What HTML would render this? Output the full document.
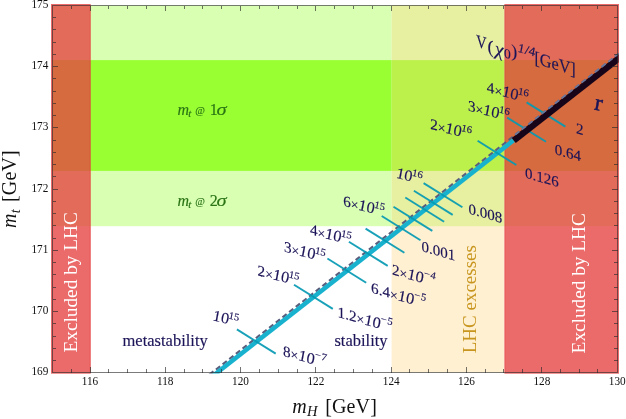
<!DOCTYPE html><html><head><meta charset="utf-8"><style>html,body{margin:0;padding:0;background:#fff}svg{display:block;will-change:transform}text{font-family:"Liberation Serif",serif}.nv text,text.nv{stroke:#1b1458;stroke-width:.15px}.gr{stroke:#2a7414;stroke-width:.15px}</style></head><body>
<svg width="626" height="419" viewBox="0 0 626 419">
<rect width="626" height="419" fill="#fff"/>
<rect x="52.5" y="5.4" width="565.0" height="220.80" fill="#d9ffb3"/>
<rect x="52.5" y="60.13" width="565.0" height="110.77" fill="#99ff33"/>
<rect x="391.50" y="5.0" width="113.00" height="367.5" fill="rgba(255,211,123,0.34)"/>
<rect x="51" y="4" width="39.70" height="369.7" fill="rgba(230,65,65,0.78)"/>
<rect x="504.4" y="4" width="114.60" height="369.7" fill="rgba(230,65,65,0.78)"/>
<path d="M504.3 5V372.5M391.4 5V372.5" stroke="#fff" stroke-opacity="0.3" stroke-width="0.7" fill="none"/>
<path d="M90.1 5V372.5M505 5V372.5" stroke="rgba(225,60,60,0.35)" stroke-width="1.1" fill="none"/>
<clipPath id="cp"><rect x="52.5" y="5.0" width="566.0" height="368.5"/></clipPath>
<linearGradient id="dg" gradientUnits="userSpaceOnUse" x1="0" y1="0" x2="626" y2="0"><stop offset="0.8195" stop-color="#6c769c" stop-opacity="0"/><stop offset="0.8205" stop-color="#6c769c"/></linearGradient>
<g clip-path="url(#cp)">
<line x1="202.67" y1="379.95" x2="625.74" y2="48.42" stroke="#5b5f7e" stroke-width="2.2" stroke-dasharray="5.3 3.15"/>
<line x1="206.99" y1="380.57" x2="513.59" y2="140.31" stroke="#18b2cf" stroke-width="4.5"/>
<line x1="236.9" y1="329.4" x2="275.7" y2="353.6" stroke="#069ab3" stroke-opacity="0.93" stroke-width="1.9"/>
<line x1="294.0" y1="284.7" x2="332.8" y2="308.9" stroke="#069ab3" stroke-opacity="0.93" stroke-width="1.9"/>
<line x1="327.4" y1="258.5" x2="366.2" y2="282.7" stroke="#069ab3" stroke-opacity="0.93" stroke-width="1.9"/>
<line x1="348.9" y1="241.7" x2="387.7" y2="265.9" stroke="#069ab3" stroke-opacity="0.93" stroke-width="1.9"/>
<line x1="365.6" y1="228.6" x2="404.4" y2="252.8" stroke="#069ab3" stroke-opacity="0.93" stroke-width="1.9"/>
<line x1="381.7" y1="216.0" x2="420.5" y2="240.2" stroke="#069ab3" stroke-opacity="0.93" stroke-width="1.9"/>
<line x1="393.5" y1="206.7" x2="432.3" y2="230.9" stroke="#069ab3" stroke-opacity="0.93" stroke-width="1.9"/>
<line x1="405.3" y1="197.5" x2="444.1" y2="221.7" stroke="#069ab3" stroke-opacity="0.93" stroke-width="1.9"/>
<line x1="413.9" y1="190.7" x2="452.7" y2="214.9" stroke="#069ab3" stroke-opacity="0.93" stroke-width="1.9"/>
<line x1="423.6" y1="183.1" x2="462.4" y2="207.3" stroke="#069ab3" stroke-opacity="0.93" stroke-width="1.9"/>
<line x1="477.6" y1="140.8" x2="516.4" y2="165.0" stroke="#069ab3" stroke-opacity="0.93" stroke-width="1.9"/>
<line x1="507.2" y1="117.6" x2="546.0" y2="141.8" stroke="#069ab3" stroke-opacity="0.93" stroke-width="1.9"/>
<line x1="526.6" y1="102.4" x2="565.4" y2="126.6" stroke="#069ab3" stroke-opacity="0.93" stroke-width="1.9"/>
<line x1="513.74" y1="140.51" x2="627.84" y2="51.10" stroke="#170418" stroke-width="6.5"/>
<line x1="202.52" y1="379.75" x2="625.59" y2="48.22" stroke="url(#dg)" stroke-width="1.7" stroke-dasharray="5.3 3.15"/>
</g>
<path d="M71.50 372.5v-3.7M71.50 5.5v3.7M90.50 372.5v-5.7M90.50 5.5v5.7M108.50 372.5v-3.7M108.50 5.5v3.7M127.50 372.5v-3.7M127.50 5.5v3.7M146.50 372.5v-3.7M146.50 5.5v3.7M165.50 372.5v-5.7M165.50 5.5v5.7M184.50 372.5v-3.7M184.50 5.5v3.7M202.50 372.5v-3.7M202.50 5.5v3.7M221.50 372.5v-3.7M221.50 5.5v3.7M240.50 372.5v-5.7M240.50 5.5v5.7M259.50 372.5v-3.7M259.50 5.5v3.7M278.50 372.5v-3.7M278.50 5.5v3.7M297.50 372.5v-3.7M297.50 5.5v3.7M315.50 372.5v-5.7M315.50 5.5v5.7M334.50 372.5v-3.7M334.50 5.5v3.7M353.50 372.5v-3.7M353.50 5.5v3.7M372.50 372.5v-3.7M372.50 5.5v3.7M391.50 372.5v-5.7M391.50 5.5v5.7M409.50 372.5v-3.7M409.50 5.5v3.7M428.50 372.5v-3.7M428.50 5.5v3.7M447.50 372.5v-3.7M447.50 5.5v3.7M466.50 372.5v-5.7M466.50 5.5v5.7M485.50 372.5v-3.7M485.50 5.5v3.7M503.50 372.5v-3.7M503.50 5.5v3.7M522.50 372.5v-3.7M522.50 5.5v3.7M541.50 372.5v-5.7M541.50 5.5v5.7M560.50 372.5v-3.7M560.50 5.5v3.7M579.50 372.5v-3.7M579.50 5.5v3.7M597.50 372.5v-3.7M597.50 5.5v3.7M52.5 360.50h3.7M617.5 360.50h-3.7M52.5 348.50h3.7M617.5 348.50h-3.7M52.5 336.50h3.7M617.5 336.50h-3.7M52.5 323.50h3.7M617.5 323.50h-3.7M52.5 311.50h5.7M617.5 311.50h-5.7M52.5 299.50h3.7M617.5 299.50h-3.7M52.5 287.50h3.7M617.5 287.50h-3.7M52.5 274.50h3.7M617.5 274.50h-3.7M52.5 262.50h3.7M617.5 262.50h-3.7M52.5 250.50h5.7M617.5 250.50h-5.7M52.5 238.50h3.7M617.5 238.50h-3.7M52.5 225.50h3.7M617.5 225.50h-3.7M52.5 213.50h3.7M617.5 213.50h-3.7M52.5 201.50h3.7M617.5 201.50h-3.7M52.5 189.50h5.7M617.5 189.50h-5.7M52.5 176.50h3.7M617.5 176.50h-3.7M52.5 164.50h3.7M617.5 164.50h-3.7M52.5 152.50h3.7M617.5 152.50h-3.7M52.5 140.50h3.7M617.5 140.50h-3.7M52.5 127.50h5.7M617.5 127.50h-5.7M52.5 115.50h3.7M617.5 115.50h-3.7M52.5 103.50h3.7M617.5 103.50h-3.7M52.5 91.50h3.7M617.5 91.50h-3.7M52.5 78.50h3.7M617.5 78.50h-3.7M52.5 66.50h5.7M617.5 66.50h-5.7M52.5 54.50h3.7M617.5 54.50h-3.7M52.5 42.50h3.7M617.5 42.50h-3.7M52.5 29.50h3.7M617.5 29.50h-3.7M52.5 17.50h3.7M617.5 17.50h-3.7" stroke="#2a2a2a" stroke-width="1" fill="none" shape-rendering="crispEdges" stroke-opacity="0.66"/>
<rect x="52.5" y="5.5" width="565" height="367" fill="none" stroke="#2a2a2a" stroke-opacity="0.62" stroke-width="1" shape-rendering="crispEdges"/>
<text transform="translate(89.9,384.6) scale(0.94,1)" font-size="12" text-anchor="middle" fill="#111">116</text>
<text transform="translate(165.2,384.6) scale(0.94,1)" font-size="12" text-anchor="middle" fill="#111">118</text>
<text transform="translate(240.5,384.6) scale(0.94,1)" font-size="12" text-anchor="middle" fill="#111">120</text>
<text transform="translate(315.9,384.6) scale(0.94,1)" font-size="12" text-anchor="middle" fill="#111">122</text>
<text transform="translate(391.2,384.6) scale(0.94,1)" font-size="12" text-anchor="middle" fill="#111">124</text>
<text transform="translate(466.5,384.6) scale(0.94,1)" font-size="12" text-anchor="middle" fill="#111">126</text>
<text transform="translate(541.9,384.6) scale(0.94,1)" font-size="12" text-anchor="middle" fill="#111">128</text>
<text transform="translate(617.2,384.6) scale(0.94,1)" font-size="12" text-anchor="middle" fill="#111">130</text>
<text transform="translate(48.3,375.4) scale(0.94,1)" font-size="12" text-anchor="end" fill="#111">169</text>
<text transform="translate(48.3,314.1) scale(0.94,1)" font-size="12" text-anchor="end" fill="#111">170</text>
<text transform="translate(48.3,252.9) scale(0.94,1)" font-size="12" text-anchor="end" fill="#111">171</text>
<text transform="translate(48.3,191.7) scale(0.94,1)" font-size="12" text-anchor="end" fill="#111">172</text>
<text transform="translate(48.3,130.4) scale(0.94,1)" font-size="12" text-anchor="end" fill="#111">173</text>
<text transform="translate(48.3,69.2) scale(0.94,1)" font-size="12" text-anchor="end" fill="#111">174</text>
<text transform="translate(48.3,7.9) scale(0.94,1)" font-size="12" text-anchor="end" fill="#111">175</text>
<text y="412.6" font-size="20" fill="#111"><tspan x="292.3" font-style="italic">m</tspan><tspan font-style="italic" font-size="14.5" dy="3.5" dx="0.3">H</tspan><tspan x="325.2" dy="-3.5" letter-spacing="0.15">[GeV]</tspan></text>
<text transform="translate(16.3,227.9) rotate(-90)" font-size="20" fill="#111"><tspan x="0" font-style="italic">m</tspan><tspan font-style="italic" font-size="14" dy="3.5" dx="0.3">t</tspan><tspan x="25.9" dy="-3.5" letter-spacing="0.15">[GeV]</tspan></text>
<text y="114.6" font-size="16" fill="#2a7414" class="gr"><tspan x="177.6" font-style="italic">m</tspan><tspan x="188.2" font-style="italic" font-size="11" dy="2">t</tspan><tspan x="195.3" dy="-2.6" font-size="10.5">@</tspan><tspan x="209.8" dy="0.6">1</tspan></text>
<text transform="translate(216.6,114.6) scale(1.28,1)" font-size="16" font-style="italic" fill="#2a7414" class="gr">σ</text>
<text y="205.9" font-size="16" fill="#2a7414" class="gr"><tspan x="177.6" font-style="italic">m</tspan><tspan x="188.2" font-style="italic" font-size="11" dy="2">t</tspan><tspan x="195.3" dy="-2.6" font-size="10.5">@</tspan><tspan x="209.8" dy="0.6">2</tspan></text>
<text transform="translate(216.6,205.9) scale(1.28,1)" font-size="16" font-style="italic" fill="#2a7414" class="gr">σ</text>
<text x="122.5" y="345.9" font-size="16.5" fill="#1b1458" class="nv">metastability</text>
<text x="334.4" y="345.6" font-size="16.5" fill="#1b1458" class="nv">stability</text>
<text transform="translate(475.8,353.3) rotate(-90)" font-size="19" fill="#c8961e">LHC excesses</text>
<text transform="translate(584.7,353.4) rotate(-90)" font-size="19.3" fill="#fff">Excluded by LHC</text>
<text transform="translate(77.3,352.5) rotate(-90)" font-size="19.3" fill="#fff">Excluded by LHC</text>
<text transform="translate(213,320.3) skewY(14.5)" font-size="15.2" fill="#1b1458" class="nv"><tspan font-style="italic" font-size="15.8">10</tspan><tspan font-size="10.5" font-style="italic" dy="-6">15</tspan></text>
<text transform="translate(257.6,275.3) skewY(14.5)" font-size="15.2" fill="#1b1458" class="nv">2<tspan font-size="13.8" dy="0.7">×</tspan><tspan font-style="italic" font-size="16" dy="-0.7">10</tspan><tspan font-size="10.5" font-style="italic" dy="-6">15</tspan></text>
<text transform="translate(284,251.5) skewY(14.5)" font-size="15.2" fill="#1b1458" class="nv">3<tspan font-size="13.8" dy="0.7">×</tspan><tspan font-style="italic" font-size="16" dy="-0.7">10</tspan><tspan font-size="10.5" font-style="italic" dy="-6">15</tspan></text>
<text transform="translate(310,234.3) skewY(14.5)" font-size="15.2" fill="#1b1458" class="nv">4<tspan font-size="13.8" dy="0.7">×</tspan><tspan font-style="italic" font-size="16" dy="-0.7">10</tspan><tspan font-size="10.5" font-style="italic" dy="-6">15</tspan></text>
<text transform="translate(343.2,205.7) skewY(14.5)" font-size="15.2" fill="#1b1458" class="nv">6<tspan font-size="13.8" dy="0.7">×</tspan><tspan font-style="italic" font-size="16" dy="-0.7">10</tspan><tspan font-size="10.5" font-style="italic" dy="-6">15</tspan></text>
<text transform="translate(396.4,177.7) skewY(14.5)" font-size="15.2" fill="#1b1458" class="nv"><tspan font-style="italic" font-size="15.8">10</tspan><tspan font-size="10.5" font-style="italic" dy="-6">16</tspan></text>
<text transform="translate(430.2,128.8) skewY(14.5)" font-size="15.2" fill="#1b1458" class="nv">2<tspan font-size="13.8" dy="0.7">×</tspan><tspan font-style="italic" font-size="16" dy="-0.7">10</tspan><tspan font-size="10.5" font-style="italic" dy="-6">16</tspan></text>
<text transform="translate(468.0,110.5) skewY(14.5)" font-size="15.2" fill="#1b1458" class="nv">3<tspan font-size="13.8" dy="0.7">×</tspan><tspan font-style="italic" font-size="16" dy="-0.7">10</tspan><tspan font-size="10.5" font-style="italic" dy="-6">16</tspan></text>
<text transform="translate(486.8,92.1) skewY(14.5)" font-size="15.2" fill="#1b1458" class="nv">4<tspan font-size="13.8" dy="0.7">×</tspan><tspan font-style="italic" font-size="16" dy="-0.7">10</tspan><tspan font-size="10.5" font-style="italic" dy="-6">16</tspan></text>
<text transform="translate(283,355.7) skewY(16)" font-size="15.2" fill="#1b1458" class="nv">8<tspan font-size="13.8" dy="0.7">×</tspan><tspan font-style="italic" font-size="16" dy="-0.7">10</tspan><tspan font-size="10.5" font-style="italic" dy="-7.1">−7</tspan></text>
<text transform="translate(337.6,316.7) skewY(16)" font-size="15.2" fill="#1b1458" class="nv">1.2<tspan font-size="13.8" dy="0.7">×</tspan><tspan font-style="italic" font-size="16" dy="-0.7">10</tspan><tspan font-size="10.5" font-style="italic" dy="-7.1">−5</tspan></text>
<text transform="translate(371.1,292.5) skewY(16)" font-size="15.2" fill="#1b1458" class="nv">6.4<tspan font-size="13.8" dy="0.7">×</tspan><tspan font-style="italic" font-size="16" dy="-0.7">10</tspan><tspan font-size="10.5" font-style="italic" dy="-7.1">−5</tspan></text>
<text transform="translate(392,274.3) skewY(16)" font-size="15.2" fill="#1b1458" class="nv">2<tspan font-size="13.8" dy="0.7">×</tspan><tspan font-style="italic" font-size="16" dy="-0.7">10</tspan><tspan font-size="10.5" font-style="italic" dy="-7.1">−4</tspan></text>
<text transform="translate(421.5,251.1) skewY(16)" font-size="15" fill="#1b1458" class="nv">0.001</text>
<text transform="translate(468.4,213.4) skewY(16)" font-size="15" fill="#1b1458" class="nv">0.008</text>
<text transform="translate(525,177.5) skewY(16)" font-size="15" fill="#1b1458" class="nv">0.126</text>
<text transform="translate(554.8,154) skewY(16)" font-size="15" fill="#1b1458" class="nv">0.64</text>
<text transform="translate(576,133) skewY(16)" font-size="15" fill="#1b1458" class="nv">2</text>
<g class="nv" transform="translate(476.6,46) skewY(16.3)" fill="#1b1458" font-size="18"><text transform="translate(-0.5,0.6) scale(0.82,1)">V</text><text x="10.9" y="2.6">(</text><text x="18.4" y="3.2" font-style="italic" font-size="19.5">χ</text><text x="27.3" y="3.3" font-size="13.5">0</text><text x="34.6" y="0.5">)</text><text x="41.5" y="-6.5" font-size="13" font-style="italic" letter-spacing="0.3">1/4</text><text transform="translate(57.8,0.5) scale(0.9,1)">[GeV]</text></g>
<text transform="translate(593.8,109.4) rotate(10)" font-size="23" fill="#1b1458" stroke="#1b1458" stroke-width="0.5">r</text>
</svg></body></html>
